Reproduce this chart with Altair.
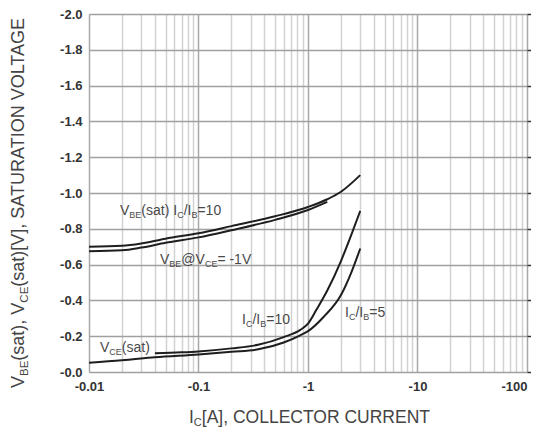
import altair as alt
import pandas as pd

FONT = "Liberation Sans"

# ---- data (|I_C| in A, |V| in V) ----
vbe_sat_I = [0.01, 0.02, 0.03, 0.05, 0.1, 0.2, 0.5, 1.0, 1.5, 2.0, 3.0]
vbe_sat_V = [0.700, 0.705, 0.718, 0.745, 0.775, 0.815, 0.870, 0.922, 0.965, 1.007, 1.100]

vbe_on_I = [0.01, 0.02, 0.03, 0.05, 0.1, 0.2, 0.5, 1.0, 1.5]
vbe_on_V = [0.675, 0.680, 0.695, 0.722, 0.752, 0.792, 0.850, 0.905, 0.950]

vce10_I = [0.04, 0.07, 0.1, 0.2, 0.35, 0.6, 0.85, 1.0, 1.2, 1.5, 2.0, 2.5, 3.0]
vce10_V = [0.105, 0.110, 0.115, 0.132, 0.152, 0.195, 0.235, 0.27, 0.35, 0.455, 0.62, 0.77, 0.90]

vce5_I = [0.01, 0.02, 0.04, 0.1, 0.2, 0.36, 0.6, 0.85, 1.0, 1.4, 2.0, 2.5, 3.0]
vce5_V = [0.052, 0.065, 0.082, 0.098, 0.113, 0.128, 0.165, 0.205, 0.228, 0.31, 0.43, 0.56, 0.69]

x_decades = [0.01, 0.1, 1, 10, 100]
x_minor = [m * d for d in [0.01, 0.1, 1, 10] for m in range(2, 10)]
y_ticks = [0.0, 0.2, 0.4, 0.6, 0.8, 1.0, 1.2, 1.4, 1.6, 1.8, 2.0]

rows = []
for name, I, V in [("vbe_sat", vbe_sat_I, vbe_sat_V), ("vbe_on", vbe_on_I, vbe_on_V),
                   ("vce10", vce10_I, vce10_V), ("vce5", vce5_I, vce5_V)]:
    for i, v in zip(I, V):
        rows.append({"series": name, "I": i, "V": v})
curves = pd.DataFrame(rows)

xs = alt.Scale(type="log", domain=[0.01, 100], nice=False)
ys = alt.Scale(domain=[0, 2], nice=False, zero=False)

dec_test = "indexof([0.01,0.1,1,10,100], datum.value) >= 0"

XAXIS = alt.Axis(
    values=x_decades + x_minor, title=None, grid=True, ticks=False, domain=False,
    labelExpr=dec_test + " ? '-' + datum.value : ''",
    labelFont=FONT, labelFontSize=13, labelFontWeight="bold", labelColor="#333",
    labelPadding=8, labelOverlap=False, labelFlush=False,
    labelAlign={"condition": {"test": "datum.value == 100", "value": "right"}, "value": "center"},
    gridColor={"condition": {"test": dec_test, "value": "#a8a8a8"}, "value": "#d2d2d2"},
    gridWidth=1.5)


def X():
    return alt.X("I:Q", scale=xs, axis=XAXIS)


lines = alt.Chart(curves).mark_line(interpolate="monotone", strokeWidth=2, color="#1e1e1e").encode(
    x=X(),
    y=alt.Y("V:Q", scale=ys, axis=alt.Axis(
        values=y_ticks, title=None, grid=True, ticks=False, domain=False,
        labelExpr="'-' + format(datum.value, '.1f')",
        labelFont=FONT, labelFontSize=13, labelFontWeight="bold", labelColor="#333",
        labelPadding=7, gridColor="#a0a0a0", gridWidth=1.5)),
    detail="series:N",
)

right_ticks = alt.Chart(curves).mark_line(opacity=0).encode(
    x=X(),
    y=alt.Y("V:Q", scale=ys, axis=alt.Axis(
        orient="right", values=y_ticks, labels=False, title=None, grid=False,
        domain=False, ticks=True, tickSize=4, tickColor="#333", tickWidth=1.5)),
    detail="series:N",
)

# ---- rich text helper (subscripts) ----
W = {'V': 667, 'B': 667, 'E': 667, '(': 333, ')': 333, 's': 500, 'a': 556, 't': 278, ' ': 278,
     'I': 278, 'C': 722, '/': 278, '=': 584, '@': 1015, '-': 333, ',': 278, '[': 278, ']': 278,
     'A': 667, 'S': 667, 'U': 722, 'R': 722, 'T': 611, 'O': 778, 'N': 722, 'L': 556, 'G': 778}
for d in "0123456789":
    W[d] = 556


def tw(s, fs):
    return sum(W.get(c, 556) for c in s) * fs / 1000.0


def rich(segments, x, y, size, subsize, color, subdy, angle=0, pixel=False):
    layers = []
    off = 0.0
    for txt, sub in segments:
        fs = subsize if sub else size
        df = pd.DataFrame({"I": [x], "V": [y], "t": [txt]})
        m = alt.Chart(df).mark_text(
            align="left", baseline="alphabetic", dx=off, dy=(subdy if sub else 0),
            fontSize=fs, font=FONT, color=color, angle=angle)
        if pixel:
            enc = m.encode(x=alt.value(x), y=alt.value(y), text="t:N")
        else:
            enc = m.encode(x=X(), y=alt.Y("V:Q", scale=ys, axis=None), text="t:N")
        layers.append(enc)
        off += tw(txt, fs)
    return layers


LC = "#4a4a4a"
labels = []
labels += rich([("V", 0), ("BE", 1), ("(sat) I", 0), ("C", 1), ("/I", 0), ("B", 1), ("=10", 0)],
               0.0192, 0.877, 14, 9, LC, 3)
labels += rich([("V", 0), ("BE", 1), ("@V", 0), ("CE", 1), ("= -1V", 0)],
               0.0445, 0.603, 14, 9, LC, 3)
labels += rich([("V", 0), ("CE", 1), ("(sat)", 0)],
               0.0126, 0.112, 14, 9, LC, 3)
labels += rich([("I", 0), ("C", 1), ("/I", 0), ("B", 1), ("=10", 0)],
               0.25, 0.268, 14, 9, LC, 3)
labels += rich([("I", 0), ("C", 1), ("/I", 0), ("B", 1), ("=5", 0)],
               2.18, 0.307, 14, 9, LC, 3)

TC = "#444"
titles = []
titles += rich([("I", 0), ("C", 1), ("[A], COLLECTOR CURRENT", 0)],
               100, 409, 17.5, 11, TC, 3, pixel=True)
titles += rich([("V", 0), ("BE", 1), ("(sat), V", 0), ("CE", 1), ("(sat)[V], SATURATION VOLTAGE", 0)],
               -65, 374, 18, 11.5, TC, 4, angle=270, pixel=True)

chart = alt.layer(lines, right_ticks, *labels, *titles).resolve_axis(y="independent").properties(
    width=438, height=358,
    autosize=alt.AutoSizeParams(type="none"),
    padding={"left": 81, "top": 6, "right": 4, "bottom": 57},
).configure_view(stroke="#333", strokeWidth=2).configure(background="white")

chart.save("out.html", embed_options={"renderer": "svg", "actions": False})
